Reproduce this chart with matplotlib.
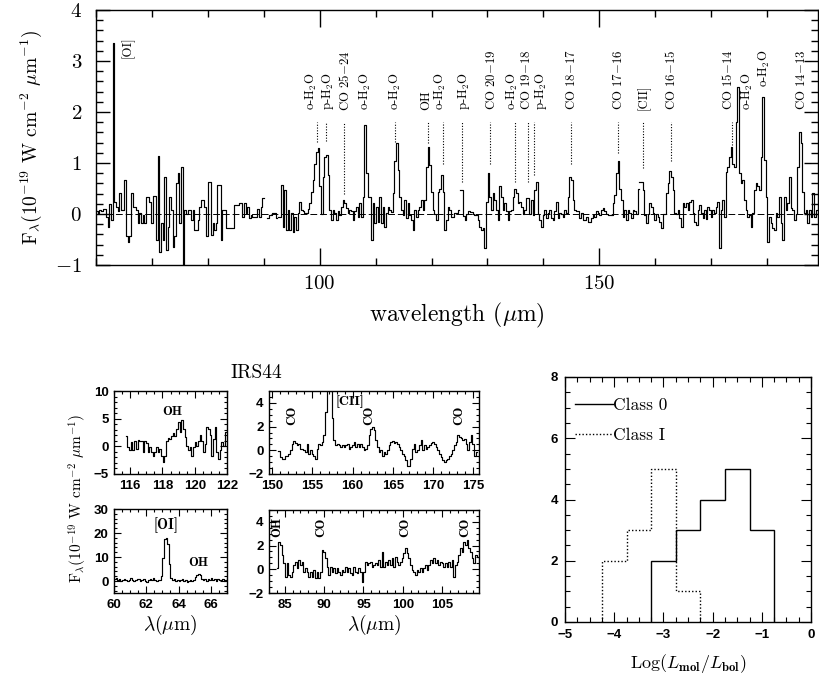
import numpy as np
import matplotlib
matplotlib.use('Agg')
import matplotlib.pyplot as plt
from matplotlib.ticker import MultipleLocator, ScalarFormatter, FuncFormatter

plt.rcParams.update({
    'font.family': 'cmr10',
    'mathtext.fontset': 'cm',
    'axes.formatter.use_mathtext': False,
    'xtick.direction': 'in',
    'ytick.direction': 'in',
    'xtick.top': True,
    'ytick.right': True,
    'axes.linewidth': 1.0,
})

# ---- full LWS spectrum (10^-19 W cm^-2 um^-1), four detector pieces on a 0.2976 um grid ----
LWS_BIN = 0.2976
LWS_STARTS = [60.0, 92.5, 125.0, 157.14]
lws_flux_1 = [0.05, 0.01, 0.08, 0.05, 0.09, 0.09, -0.05, -0.26, 0.20, -0.12,
              3.35, 0.24, 0.14, 0.05, 0.42, 0.08, 0.08, 0.67, -0.44, -0.54,
              -0.44, 0.42, 0.14, 0.14, 0.08, -0.18, 0.01, -0.18, -0.02, -0.18,
              0.33, 0.33, 0.24, -0.18, 0.35, 0.35, -0.51, 1.14, -0.74, -0.18,
              -0.51, 0.73, -0.70, -0.25, 0.34, 0.08, -0.64, -0.44, 0.60, 0.80,
              -0.18, 0.92, -1.50, 0.08, 0.00, 0.08, 0.08, -0.12, 0.08, -0.31,
              -0.31, -0.12, 0.14, 0.27, 0.27, 0.14, -0.44, 0.63, 0.63, -0.41,
              -0.18, -0.31, -0.18, 0.57, 0.57, -0.51, 0.08, 0.08, -0.28, -0.28,
              -0.28, -0.28, -0.28, 0.18, 0.18, 0.18, 0.21, 0.21, -0.05, 0.21,
              0.01, 0.14, -0.08, -0.02, -0.05, -0.05, -0.05, 0.09, -0.05, 0.14,
              0.31, None, None, -0.08, -0.02, -0.02, 0.01, 0.01, -0.08]
lws_flux_2 = [-0.05, -0.05, 0.57, -0.25, 0.47, -0.31, 0.08, -0.31, 0.01, -0.35,
              -0.05, -0.31, 0.01, 0.24, 0.08, 0.05, 0.01, 0.01, 0.09, 0.21,
              0.44, 0.67, 0.99, 1.22, 1.29, 0.54, 0.00, 0.73, 1.12, 1.16,
              0.76, 0.08, -0.12, 0.08, 0.01, -0.12, 0.05, -0.02, 0.14, 0.27,
              0.21, 0.11, 0.01, 0.08, 0.05, -0.12, 0.05, 0.14, -0.05, 0.21,
              -0.05, 0.34, 1.75, 0.80, 0.34, 0.34, -0.51, 0.21, -0.18, 0.14,
              -0.15, 0.34, -0.18, 0.14, -0.25, 0.01, 0.14, 0.08, 0.03, 0.41,
              1.03, 1.39, 0.86, 0.34, 0.08, -0.02, 0.27, -0.08, 0.21, -0.02,
              -0.12, -0.31, 0.08, -0.05, 0.08, 0.14, 0.27, 0.08, 0.27, 0.93,
              1.32, 0.96, 0.44, 0.08, 0.00, -0.12, 0.44, 0.50, 0.76, 0.44,
              -0.31, -0.12, 0.14, 0.08, -0.05, -0.05, 0.01, 0.01, 0.08]
lws_flux_3 = [0.47, 0.47, -0.04, -0.12, 0.00, 0.05, 0.03, 0.03, 0.00, -0.02,
              -0.02, -0.12, -0.25, -0.31, -0.28, -0.67, 0.24, 0.80, 0.34, 0.08,
              0.41, 0.27, 0.08, -0.12, 0.54, 0.34, 0.08, 0.21, 0.05, -0.12,
              0.05, 0.08, 0.34, 0.50, 0.41, 0.21, 0.24, 0.14, 0.00, 0.08,
              0.31, 0.31, 0.00, 0.27, -0.02, 0.47, 0.63, 0.00, -0.12, -0.25,
              -0.02, 0.08, -0.08, 0.01, 0.08, -0.08, -0.12, 0.05, 0.24, -0.08,
              0.01, 0.00, -0.05, 0.08, 0.01, 0.34, 0.73, 0.67, 0.27, 0.08,
              0.05, 0.05, -0.08, 0.01, -0.12, -0.12, -0.05, -0.15, -0.15, -0.08,
              -0.02, -0.05, 0.05, 0.01, -0.02, 0.08, 0.11, 0.05, 0.00, -0.02,
              -0.02, -0.02, 0.21, 0.37, 0.80, 1.03, 0.50, 0.27, -0.05, 0.08,
              -0.12, 0.08, 0.01, -0.08, 0.08, 0.05, 0.00, 0.50]
lws_flux_4 = [0.63, 0.63, 0.47, -0.02, -0.18, 0.00, 0.22, 0.14, 0.01, -0.12,
              0.00, -0.05, -0.15, -0.28, 0.00, 0.00, 0.41, 0.60, 0.85, 0.73,
              0.47, 0.01, 0.00, 0.08, -0.08, -0.25, 0.21, 0.14, 0.21, 0.08,
              0.24, 0.27, 0.01, -0.15, -0.22, 0.08, 0.18, 0.01, -0.08, 0.08,
              -0.10, 0.14, 0.08, -0.05, 0.08, 0.01, 0.14, 0.24, -0.67, 0.08,
              0.27, -0.05, 0.83, 0.93, 1.12, 1.32, 0.99, 0.93, 1.81, 2.50,
              0.80, 0.60, 0.67, 0.27, 0.08, -0.05, -0.02, -0.25, 0.01, 0.47,
              0.60, 0.54, 0.47, 1.12, 2.30, 1.06, 0.34, -0.54, -0.05, -0.18,
              -0.28, -0.31, 0.01, -0.05, 0.34, -0.18, -0.51, 0.34, 0.08, 0.21,
              0.73, 0.11, 0.08, -0.12, 0.00, 0.93, 1.61, 1.39, 0.44, 0.01,
              0.08, -0.18, 0.08, -0.05, 0.41, -0.05, 0.08]

# line identifications: dotted markers (wavelength, lower end) and labels
marker_wave = [99.6, 101.1, 104.4, 113.5, 119.4, 122.1, 125.4, 130.5, 134.9,
               137.3, 138.4, 144.9, 153.4, 157.8, 162.9, 173.7]
marker_low = [1.42, 1.44, 0.40, 1.42, 1.39, 0.99, 0.63, 0.99, 0.63,
              0.63, 0.76, 0.99, 1.19, 0.90, 1.03, 1.35]
MARKER_TOP = 1.81
line_names = ['o-H$_2$O', 'p-H$_2$O', 'CO 25$-$24', 'o-H$_2$O', 'o-H$_2$O',
              'OH', 'o-H$_2$O', 'p-H$_2$O', 'CO 20$-$19', 'o-H$_2$O',
              'CO 19$-$18', 'p-H$_2$O', 'CO 18$-$17', 'CO 17$-$16', '[CII]',
              'CO 16$-$15', 'CO 15$-$14', 'o-H$_2$O', 'o-H$_2$O', 'CO 14$-$13',
              '[OI]']
line_name_x = [98.6, 101.5, 104.5, 108.1, 113.6, 119.0, 121.5, 125.8, 130.8,
               134.4, 136.9, 139.5, 145.1, 153.4, 158.0, 162.9, 173.0, 176.4,
               179.6, 186.1, 65.6]
line_name_y = [2.04, 2.04, 2.02, 2.04, 2.04, 2.04, 2.04, 2.04, 2.04, 2.04,
               2.04, 2.04, 2.04, 2.04, 2.04, 2.04, 2.04, 2.04, 2.49, 2.04,
               3.05]

# ---- IRS44 zoomed spectra ----
oh119_start, oh119_bin = 115.73, 0.104
oh119_flux = [1.8, -0.15, -0.75, 0.76, -0.75, 1.05, -0.45, 1.2, 0.9, 0.9,
              -1.06, 1.05, 0.6, -1.0, -0.15, -1.0, -1.67, -1.0, -0.15, -1.0,
              -0.45, -1.67, -2.9, -1.67, 1.05, 1.5, 1.35, 1.85, 2.45, 1.85,
              3.2, 4.4, 2.6, 4.7, 3.2, 1.7, 0.15, -0.75, -0.15, -1.67,
              -0.15, 0.75, 0.15, 1.05, 1.97, 1.05, -1.0, 0.5, 3.5, 3.2,
              2.0, -1.67, 1.35, 3.5, -1.0, -2.3, -0.75, 0.76, 0.15, 2.6]

oi63_start, oi63_bin = 60.0, 0.1
oi63_flux = [0.9, 1.2, 0.6, 0.8, 0.2, 0.5, 0.9, 0.3, 0.0, 0.6,
             1.1, 0.4, -0.2, 0.3, 0.7, 1.0, 0.2, 0.5, 0.9, 0.1,
             -0.3, 0.4, 0.8, 0.3, 1.2, 0.5, 0.0, 0.4, 0.6,
             2.0, 9.7, 17.4, 18.1, 15.3, 6.9, 1.3,
             0.5, 0.9, 0.2, 0.6, -0.2, 0.4, 0.8, 0.1, 0.3, -0.4, 0.2, 0.6, -0.1, 0.5,
             1.5, 2.7, 3.0, 2.4, 1.0,
             0.3, 0.8, 0.2, 0.9, 0.4, 1.2, 0.5, 0.7, 0.1, 1.0, 0.6, 0.3, 0.9, 0.2, 0.4]

cii_start, cii_bin = 150.75, 0.208
cii_flux = [-0.07, -0.58, -0.72, -0.72, -0.5, -0.5, -0.3, 0.0, 0.55, 0.75,
            0.64, 0.41, 0.55, 0.13, 0.1, 0.0, -0.15, 0.55, -0.3, 0.0,
            -0.3, -0.44, -0.72, 0.13, 0.55, 0.41, 0.7, 1.26, 3.24, 8.0,
            8.0, 5.0, 2.7, 0.84, 0.41, 0.55, 0.41, 0.27, 0.47, 0.27,
            0.41, 0.55, 0.13, 0.27, 0.41, 0.69, 0.27, 0.55, 0.27, 0.55,
            0.27, 0.0, 0.13, 0.41, 1.26, 1.83, 1.97, 1.69, 0.84, 0.27,
            -0.16, 0.0, -0.44, -0.16, -0.3, 0.0, 0.41, 0.69, 0.75, 0.64,
            0.69, 0.55, 0.27, 0.0, -0.3, -0.44, -0.86, -1.3, -1.3, -0.72,
            0.13, 0.55, -0.16, 0.0, 0.41, 0.83, 0.0, 0.41, 0.13, 0.27,
            0.47, 0.64, 0.69, 0.55, 0.27, 0.0, -0.3, -0.58, -0.86, -1.0,
            -0.86, -0.72, -0.5, -0.3, 0.0, 0.41, 0.69, 1.26, 1.12, 1.05,
            0.84, 0.98, 0.55, 0.0, 0.69, 1.26, 0.55, -0.44, -0.16]

co84_start, co84_bin = 83.98, 0.212
co84_flux = [0.14, 2.33, 2.05, 1.2, 0.5, -0.62, 0.5, -0.48, -0.62, -0.2,
             0.37, 0.65, 0.08, 0.79, 0.37, 0.65, -0.2, 0.08, -0.2, -0.62,
             -0.2, -0.62, -0.06, -0.76, -0.2, -0.76, -0.2, 1.63, 1.49, 0.93,
             0.22, -0.48, 0.22, -0.2, 0.08, -0.34, 0.08, -0.2, -0.48, -0.06,
             -0.2, 0.22, -0.2, 0.08, -0.34, -0.48, 0.22, -0.2, -0.34, 0.08,
             -0.2, -1.04, -0.2, 0.65, 0.37, 0.5, 0.65, 0.22, 0.37, 0.5,
             0.37, 0.79, 0.22, 1.49, 0.22, 0.65, 0.37, 0.79, 0.37, 0.93,
             0.22, 1.07, 0.65, 0.37, 0.65, 0.93, 1.35, 1.77, 1.35, 0.93,
             0.37, -0.06, -0.2, -0.48, -0.06, -0.2, 0.08, -0.2, 0.08, 0.37,
             -0.06, 0.37, 0.79, 0.5, 0.93, 0.5, 0.79, 0.37, 0.65, 0.5,
             0.22, 0.5, 0.22, 0.65, 0.22, 0.79, -0.62, 0.37, 0.65, 1.2,
             1.77, 1.49, 2.33, 2.05, 2.47, 1.77, 1.49, 0.93, 0.5, 1.2, 1.07]

# ---- histogram of Log(L_mol/L_bol) ----
class0_edges = [-3.25, -2.75, -2.25, -1.75, -1.25, -0.75]
class0_counts = [2, 3, 4, 5, 3]
class1_edges = [-4.25, -3.75, -3.25, -2.75, -2.25]
class1_counts = [2, 3, 5, 1]

W, H = 819, 675
LW = 0.85


def box(x0, y0, x1, y1):
    """axes rectangle from pixel corners (top-left origin)"""
    return [x0 / W, 1 - y1 / H, (x1 - x0) / W, (y1 - y0) / H]


def draw_steps(ax, start, dlam, flux, **kw):
    f = np.array([np.nan if v is None else v for v in flux], float)
    wl = start + dlam * np.arange(len(f) + 1)
    ax.step(wl, np.append(f, f[-1]), where='post', color='k', lw=LW, **kw)


def unicode_minus(v, pos):
    return f'{v:g}'.replace('-', '\u2212')


def small_ticks(ax, xmaj, xmin, ymaj, ymin):
    ax.xaxis.set_major_locator(MultipleLocator(xmaj))
    ax.xaxis.set_minor_locator(MultipleLocator(xmin))
    ax.yaxis.set_major_locator(MultipleLocator(ymaj))
    ax.yaxis.set_minor_locator(MultipleLocator(ymin))
    ax.xaxis.set_major_formatter(FuncFormatter(unicode_minus))
    ax.yaxis.set_major_formatter(FuncFormatter(unicode_minus))
    ax.tick_params(which='major', length=5, width=0.8, labelsize=9.5, pad=4)
    ax.tick_params(which='minor', length=2.5, width=0.8)
    for lab in ax.get_xticklabels() + ax.get_yticklabels():
        lab.set_fontfamily('Liberation Sans')
        lab.set_fontweight('bold')


fig = plt.figure(figsize=(W / 100, H / 100), dpi=100)

# ================= top: full spectrum =================
ax = fig.add_axes(box(96, 10, 818, 265))
for s, fl in zip(LWS_STARTS, [lws_flux_1, lws_flux_2, lws_flux_3, lws_flux_4]):
    draw_steps(ax, s, LWS_BIN, fl)
ax.axhline(0, color='k', lw=0.7, dashes=(7, 3))
ax.vlines(marker_wave, marker_low, MARKER_TOP, colors='k', lw=0.8,
          linestyles=(0, (1, 1.5)))
for name, x, y in zip(line_names, line_name_x, line_name_y):
    ax.text(x, y, name, rotation=90, ha='center', va='bottom', fontsize=9.2)
ax.set_xlim(60, 189.1)
ax.set_ylim(-1, 4)
ax.xaxis.set_major_locator(MultipleLocator(50))
ax.xaxis.set_minor_locator(MultipleLocator(10))
ax.yaxis.set_major_locator(MultipleLocator(1))
ax.yaxis.set_minor_locator(MultipleLocator(0.2))
ax.xaxis.set_major_formatter(ScalarFormatter(useMathText=True))
ax.yaxis.set_major_formatter(ScalarFormatter(useMathText=True))
ax.tick_params(axis='x', which='major', length=12, width=1, labelsize=15, pad=7)
ax.tick_params(axis='x', which='minor', length=5, width=1)
ax.tick_params(axis='y', which='major', length=10, width=1, labelsize=15, pad=10)
ax.tick_params(axis='y', which='minor', length=5, width=1)
ax.set_xlabel(r'wavelength ($\mu$m)', fontsize=17, labelpad=6)
ax.set_ylabel(r'F$_\lambda$(10$^{-19}$ W cm$^{-2}$ $\mu$m$^{-1}$)',
              fontsize=14, labelpad=8)

# ================= IRS44 panels =================
axA = fig.add_axes(box(114, 391, 227, 474))
draw_steps(axA, oh119_start, oh119_bin, oh119_flux)
axA.set_xlim(115, 122)
axA.set_ylim(-5, 10)
small_ticks(axA, 2, 0.5, 5, 1)
axA.text(118.6, 5.2, 'OH', ha='center', va='bottom', fontsize=9.5, family='cmb10')

axB = fig.add_axes(box(114, 509, 227, 593))
draw_steps(axB, oi63_start, oi63_bin, oi63_flux)
axB.set_xlim(60, 67)
axB.set_ylim(-5, 30)
small_ticks(axB, 2, 0.5, 10, 2)
axB.text(63.25, 20.2, '[OI]', ha='center', va='bottom', fontsize=10.5, family='cmb10')
axB.text(65.2, 4.8, 'OH', ha='center', va='bottom', fontsize=9.5, family='cmb10')
axB.set_xlabel(r'$\lambda(\mu$m$)$', fontsize=14, labelpad=2)

axC = fig.add_axes(box(269, 391, 479, 474))
draw_steps(axC, cii_start, cii_bin, cii_flux)
axC.set_xlim(149.6, 175.7)
axC.set_ylim(-2, 5)
small_ticks(axC, 5, 1, 2, 0.5)
axC.text(159.7, 4.1, '[CII]', ha='center', va='center', fontsize=10, family='cmb10')
for x in [152.5, 162.1, 173.3]:
    axC.text(x, 2.1, 'CO', rotation=90, ha='center', va='bottom', fontsize=9.5,
             family='cmb10')

axD = fig.add_axes(box(269, 510, 479, 593))
draw_steps(axD, co84_start, co84_bin, co84_flux)
axD.set_xlim(83.0, 109.7)
axD.set_ylim(-2, 5)
small_ticks(axD, 5, 1, 2, 0.5)
for x, s in [(84.0, 'OH'), (89.7, 'CO'), (100.3, 'CO'), (107.9, 'CO')]:
    axD.text(x, 2.75, s, rotation=90, ha='center', va='bottom', fontsize=9.5,
             family='cmb10')
axD.set_xlabel(r'$\lambda(\mu$m$)$', fontsize=14, labelpad=2)

fig.text(256 / W, 1 - 373 / H, 'IRS44', ha='center', va='center', fontsize=14)
fig.text(78 / W, 1 - 498 / H,
         r'F$_\lambda$(10$^{-19}$ W cm$^{-2}$ $\mu$m$^{-1}$)',
         rotation=90, ha='center', va='center', fontsize=11)

# ================= histogram =================
axH = fig.add_axes(box(565, 377, 811, 622))
axH.stairs(class0_counts, class0_edges, color='k', lw=1.0, label='Class 0')
axH.stairs(class1_counts, class1_edges, color='k', lw=1.0, ls=(0, (1, 1.5)),
           label='Class I')
axH.set_xlim(-5, 0)
axH.set_ylim(0, 8)
small_ticks(axH, 1, 0.25, 2, 0.5)
axH.tick_params(which='major', length=7, pad=5)
axH.tick_params(which='minor', length=3.5)
leg = axH.legend(loc='upper left', bbox_to_anchor=(0.04, 0.915), frameon=False,
                 fontsize=12.5, handlelength=2.2, handletextpad=0.0,
                 labelspacing=0.85, borderpad=0, borderaxespad=0)
axH.set_xlabel(r'Log($L_{\mathbf{mol}}/L_{\mathbf{bol}}$)', fontsize=13, labelpad=8)

fig.savefig('out.png', dpi=100)
